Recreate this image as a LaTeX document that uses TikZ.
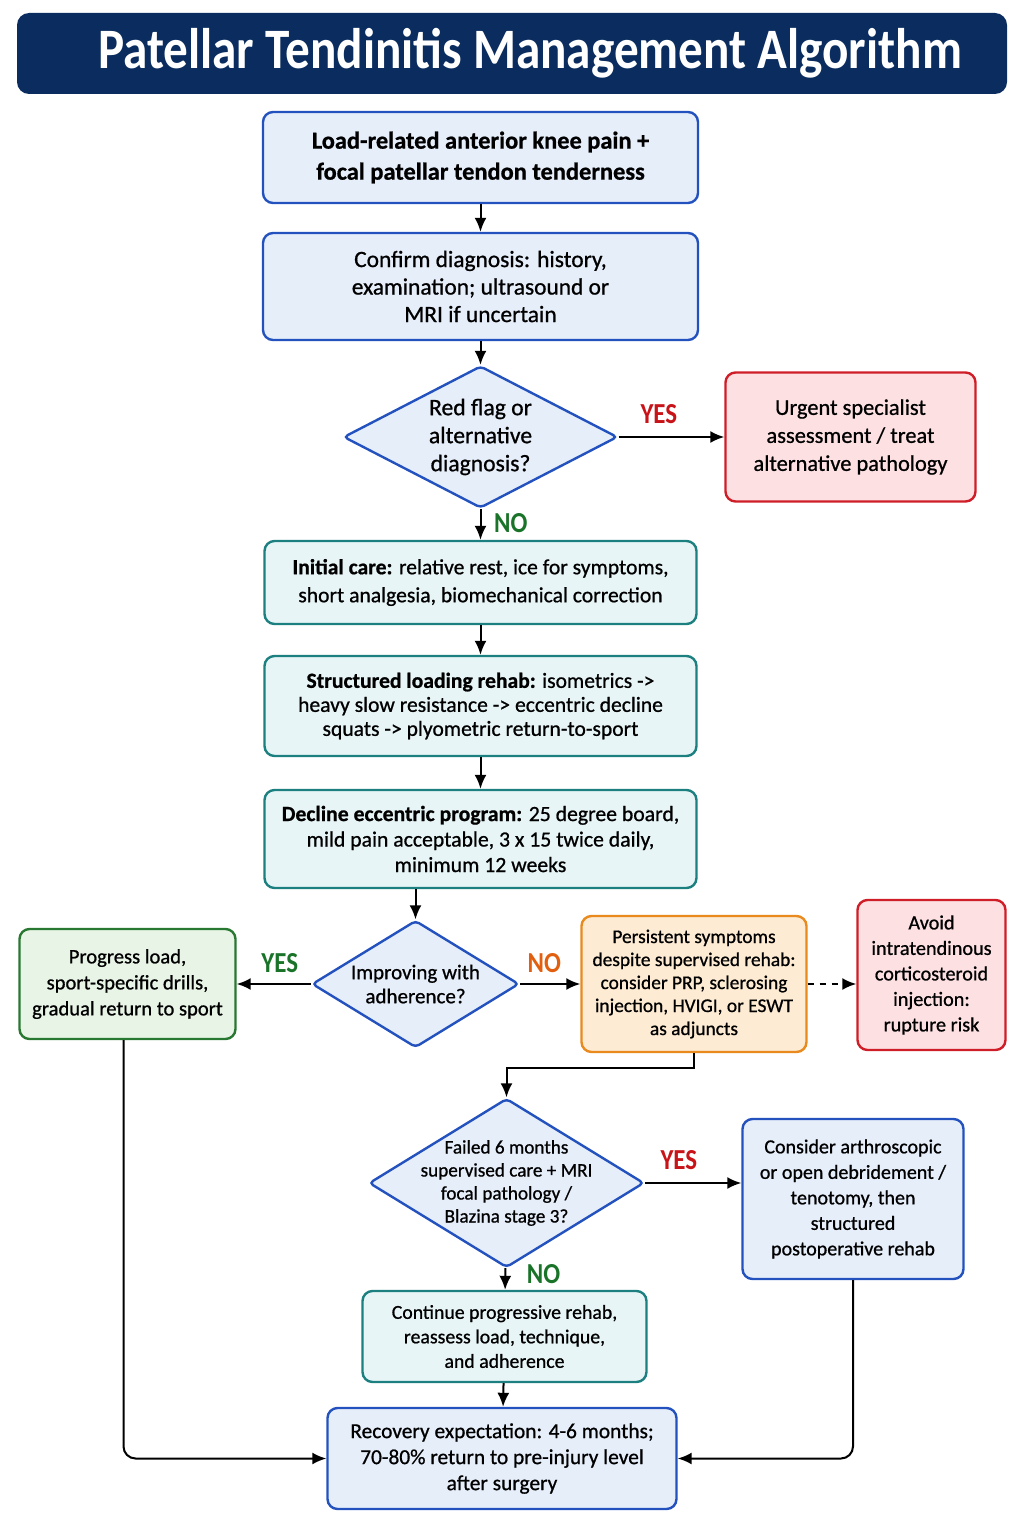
\documentclass[tikz,border=0pt]{standalone}
\usepackage{fontspec}
\setmainfont[FakeBold=0.8]{Carlito}
\newfontfamily\titlefont[FakeStretch=0.86]{Carlito}
\usetikzlibrary{positioning,shapes.geometric,arrows.meta}
\tikzset{>={Latex[length=7pt,width=6pt]}}
\definecolor{navy}{RGB}{10,44,94}
\definecolor{bluedge}{RGB}{35,82,190}
\definecolor{bluefill}{RGB}{230,238,250}
\definecolor{tealedge}{RGB}{28,128,128}
\definecolor{tealfill}{RGB}{232,245,246}
\definecolor{rededge}{RGB}{208,30,40}
\definecolor{redfill}{RGB}{252,224,226}
\definecolor{greenedge}{RGB}{40,120,50}
\definecolor{greenfill}{RGB}{232,244,230}
\definecolor{orangeedge}{RGB}{232,138,30}
\definecolor{orangefill}{RGB}{253,235,211}
\definecolor{yesred}{RGB}{200,20,25}
\definecolor{nogreen}{RGB}{25,115,40}
\definecolor{noorange}{RGB}{225,95,15}
\tikzset{
  box/.style={draw, rectangle, rounded corners=5pt, line width=1.2pt, align=center, inner sep=2pt, font=\fontsize{10.8}{13}\selectfont},
  bluebox/.style={box, draw=bluedge, fill=bluefill},
  tealbox/.style={box, draw=tealedge, fill=tealfill},
  redbox/.style={box, draw=rededge, fill=redfill},
  greenbox/.style={box, draw=greenedge, fill=greenfill},
  orangebox/.style={box, draw=orangeedge, fill=orangefill},
  decision/.style={draw=bluedge, fill=bluefill, diamond, line width=1.2pt, align=center, rounded corners=2pt, font=\fontsize{10.5}{13}\selectfont},
  lbl/.style={font=\titlefont\fontsize{14.5}{15}\selectfont\bfseries},
  conn/.style={->, line width=1pt}
}
\begin{document}
\begin{tikzpicture}
      \useasboundingbox (0,0) rectangle (512pt,-768pt);
      % title bar
      \node[rectangle, rounded corners=6pt, fill=navy, minimum width=495pt, minimum height=40.5pt, text=white, font=\titlefont\fontsize{28.6}{30}\selectfont\bfseries] (t) at (256pt,-26.75pt) {\hspace*{18pt}Patellar Tendinitis Management Algorithm};
      % main column
      \node[bluebox, minimum width=217.5pt, minimum height=45.5pt, font=\fontsize{12.2}{15.5}\selectfont\bfseries] (n1) at (240.25pt,-78.75pt) {Load-related anterior knee pain +\\focal patellar tendon tenderness};
      \node[bluebox, below of=n1, node distance=64.5pt, minimum width=217.5pt, minimum height=53.5pt, font=\fontsize{11.7}{13.75}\selectfont] (n2) {Confirm diagnosis: history,\\examination; ultrasound or\\MRI if uncertain};
      \node[decision, below of=n2, node distance=75.25pt, minimum width=137pt, minimum height=71pt, aspect=1.93, inner sep=-1pt, font=\fontsize{11.8}{14}\selectfont] (n3) {Red flag or\\alternative\\diagnosis?};
      \node[redbox, right of=n3, node distance=185pt, minimum width=125pt, minimum height=64.5pt, font=\fontsize{11.2}{14}\selectfont] (r1) {Urgent specialist\\assessment / treat\\alternative pathology};
      \node[tealbox, below of=n3, node distance=72.75pt, minimum width=216pt, minimum height=41.5pt, font=\fontsize{10.8}{14}\selectfont] (n4) {\textbf{Initial care:} relative rest, ice for symptoms,\\short analgesia, biomechanical correction};
      \node[tealbox, below of=n4, node distance=61.75pt, minimum width=216pt, minimum height=50pt, font=\fontsize{10.8}{12}\selectfont] (n5) {\textbf{Structured loading rehab:} isometrics ->\\heavy slow resistance -> eccentric decline\\squats -> plyometric return-to-sport};
      \node[tealbox, below of=n5, node distance=66.5pt, minimum width=216pt, minimum height=49pt, font=\fontsize{10.85}{12.75}\selectfont] (n6) {\textbf{Decline eccentric program:} 25 degree board,\\mild pain acceptable, 3 x 15 twice daily,\\minimum 12 weeks};
      % second decision row
      \node[decision, below of=n6, node distance=72.5pt, xshift=-32.5pt, minimum width=103.5pt, minimum height=63.5pt, aspect=1.63, inner sep=-3pt, font=\fontsize{10.5}{12}\selectfont] (n7) {Improving with\\adherence?};
      \node[greenbox, left of=n7, node distance=144pt, minimum width=108pt, minimum height=55pt, font=\fontsize{10.3}{13}\selectfont] (g1) {Progress load,\\sport-specific drills,\\gradual return to sport};
      \node[orangebox, right of=n7, node distance=139.25pt, minimum width=112.5pt, minimum height=68pt, font=\fontsize{9.7}{11.5}\selectfont] (o1) {Persistent symptoms\\despite supervised rehab:\\consider PRP, sclerosing\\injection, HVIGI, or ESWT\\as adjuncts};
      \node[redbox, right of=o1, node distance=118.75pt, yshift=4.5pt, minimum width=74pt, minimum height=75pt, font=\fontsize{10.1}{12.75}\selectfont] (r2) {Avoid\\intratendinous\\corticosteroid\\injection:\\rupture risk};
      % surgery decision
      \node[decision, below of=n7, node distance=99.5pt, xshift=45.5pt, minimum width=137.5pt, minimum height=84.5pt, aspect=1.63, inner sep=-8pt, font=\fontsize{9.6}{11.5}\selectfont] (n8) {Failed 6 months\\supervised care + MRI\\focal pathology /\\Blazina stage 3?};
      \node[bluebox, right of=n8, node distance=173.25pt, yshift=-8pt, minimum width=110.5pt, minimum height=80pt, font=\fontsize{10}{12.75}\selectfont] (b3) {Consider arthroscopic\\or open debridement /\\tenotomy, then\\structured\\postoperative rehab};
      \node[tealbox, below of=n8, node distance=76.75pt, xshift=-1pt, minimum width=142pt, minimum height=45.5pt, font=\fontsize{9.9}{12.25}\selectfont] (n9) {Continue progressive rehab,\\reassess load, technique,\\and adherence};
      \node[bluebox, below of=n9, node distance=61pt, xshift=-1.25pt, minimum width=174.5pt, minimum height=50.5pt, font=\fontsize{10.7}{13}\selectfont] (n10) {Recovery expectation: 4-6 months;\\70-80\% return to pre-injury level\\after surgery};
      % connectors
      \draw[conn] (n1) to (n2);
      \draw[conn] (n2) to (n3);
      \draw[conn] (n3) to node[lbl, text=yesred, above, pos=0.38, yshift=3pt]{YES} (r1);
      \draw[conn] (n3) to node[lbl, text=nogreen, right, pos=0.45, xshift=3pt]{NO} (n4);
      \draw[conn] (n4) to (n5);
      \draw[conn] (n5) to (n6);
      \draw[conn] (n6.south -| n7.north) to (n7.north);
      \draw[conn] (n7) to node[lbl, text=nogreen, above, pos=0.42, yshift=2pt]{YES} (g1);
      \draw[conn] (n7) to node[lbl, text=noorange, above, pos=0.4, yshift=2pt]{NO} (o1);
      \draw[conn, dashed] (o1.east) to (o1.east -| r2.west);
      \coordinate[below of=o1, node distance=42pt] (aux1);
      \draw[conn] (o1.south) -- (aux1) -| (n8.north);
      \draw[conn] (n8.east) to node[lbl, text=yesred, above, pos=0.35, yshift=3pt]{YES} (n8.east -| b3.west);
      \draw[conn] (n8) to node[lbl, text=nogreen, right, pos=0.3, xshift=7pt]{NO} (n9);
      \draw[conn] (n9) to (n10);
      \draw[conn, rounded corners=6pt] ([xshift=-2pt]g1.south) |- (n10.west);
      \draw[conn, rounded corners=6pt] (b3.south) |- (n10.east);
\end{tikzpicture}
\end{document}
